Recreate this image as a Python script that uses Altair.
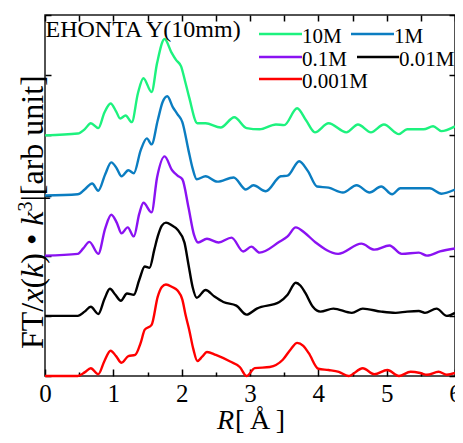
import altair as alt
import pandas as pd

# ---------------- data ----------------
labels = ["10M", "1M", "0.1M", "0.01M", "0.001M"]
colors = ["#1DF27E", "#0B7DC1", "#8A12F2", "#000000", "#FF0000"]
offsets = [4, 3, 2, 1, 0]

r_10M = [0, 0.48, 0.58, 0.67, 0.78, 0.87, 0.96, 1.04, 1.1, 1.18, 1.27, 1.36, 1.44, 1.56, 1.64, 1.75,
         1.85, 1.92, 1.99, 2.05, 2.11, 2.23, 2.35, 2.57, 2.77, 2.95, 3.14, 3.38, 3.5, 3.69, 3.82,
         3.95, 4.15, 4.41, 4.58, 4.77, 4.96, 5.18, 5.3, 5.54, 5.68, 5.8, 6.0]
v_10M = [0, 0.03, 0.1, 0.2, 0.12, 0.38, 0.53, 0.4, 0.28, 0.33, 0.22, 0.7, 0.95, 0.72, 1.2, 1.6,
         1.38, 1.25, 1.15, 0.9, 0.63, 0.2, 0.2, 0.13, 0.3, 0.12, 0.1, 0.18, 0.17, 0.45, 0.25,
         0.05, 0.2, 0.05, 0.18, 0.05, 0.18, 0.02, 0.1, 0.1, 0.15, 0.07, 0.15]

r_1M = [0, 0.48, 0.58, 0.69, 0.78, 0.88, 0.97, 1.05, 1.12, 1.22, 1.3, 1.4, 1.49, 1.56, 1.65, 1.72,
        1.79, 1.87, 1.94, 2.01, 2.1, 2.16, 2.22, 2.35, 2.52, 2.76, 2.94, 3.05, 3.23, 3.45, 3.55,
        3.72, 3.85, 3.98, 4.15, 4.36, 4.56, 4.75, 4.92, 5.08, 5.2, 5.49, 5.63, 5.8, 6.0]
v_1M = [0, 0.02, 0.1, 0.2, 0.08, 0.35, 0.55, 0.45, 0.32, 0.42, 0.37, 0.75, 0.95, 0.85, 1.25, 1.55,
        1.65, 1.47, 1.35, 1.22, 0.75, 0.45, 0.27, 0.32, 0.23, 0.3, 0.1, 0.17, 0.07, 0.32, 0.33,
        0.57, 0.4, 0.15, 0.13, 0.05, 0.17, 0.05, 0.15, 0.02, 0.12, 0.12, 0.12, 0.03, 0.1]

r_01M = [0, 0.48, 0.56, 0.65, 0.78, 0.88, 0.97, 1.05, 1.12, 1.21, 1.3, 1.38, 1.44, 1.56, 1.64, 1.75,
         1.86, 1.94, 2.01, 2.1, 2.18, 2.24, 2.37, 2.54, 2.73, 2.9, 3.02, 3.14, 3.43, 3.55, 3.67,
         3.8, 3.96, 4.29, 4.63, 4.82, 5.04, 5.22, 5.47, 5.59, 5.78, 6.0]
v_01M = [0, 0.03, 0.12, 0.23, 0.03, 0.45, 0.68, 0.55, 0.37, 0.47, 0.32, 0.7, 0.88, 0.72, 1.3, 1.65,
         1.42, 1.33, 1.27, 0.8, 0.35, 0.22, 0.28, 0.22, 0.3, 0.07, 0.15, 0.05, 0.23, 0.32, 0.47,
         0.38, 0.22, 0.03, 0.2, 0.1, 0.17, 0.03, 0.05, 0.0, 0.07, 0.12]

r_001M = [0, 0.48, 0.58, 0.67, 0.78, 0.87, 0.95, 1.03, 1.11, 1.2, 1.3, 1.38, 1.46, 1.53, 1.6, 1.65,
          1.71, 1.77, 1.86, 1.94, 2.04, 2.1, 2.16, 2.22, 2.35, 2.48, 2.61, 2.8, 2.95, 3.1, 3.43,
          3.55, 3.67, 3.74, 3.81, 3.92, 4.03, 4.22, 4.49, 4.65, 4.92, 5.13, 5.3, 5.47, 5.56, 5.73,
          5.88, 6.0]
v_001M = [0, 0, 0.07, 0.15, 0.03, 0.28, 0.45, 0.35, 0.25, 0.37, 0.35, 0.6, 0.82, 0.8, 1.1, 1.32,
          1.5, 1.55, 1.5, 1.43, 1.22, 0.85, 0.48, 0.3, 0.43, 0.32, 0.23, 0.17, 0.02, 0.12, 0.23,
          0.35, 0.55, 0.5, 0.38, 0.15, 0.07, 0.12, 0.05, 0.12, 0.07, 0.05, 0.07, 0.08, 0.05, 0.12,
          0.0, 0.05]

r_0001M = [0, 0.3, 0.48, 0.58, 0.67, 0.78, 0.87, 0.96, 1.04, 1.12, 1.22, 1.32, 1.4, 1.46, 1.56, 1.65,
           1.71, 1.77, 1.86, 1.94, 2.01, 2.06, 2.11, 2.17, 2.23, 2.3, 2.37, 2.5, 2.71, 2.85, 2.95,
           3.07, 3.29, 3.48, 3.6, 3.69, 3.78, 3.86, 4.0, 4.15, 4.3, 4.44, 4.65, 4.82, 5.01, 5.18,
           5.35, 5.49, 5.59, 5.76, 5.88, 6.0]
v_0001M = [0, 0, 0, 0.06, 0.13, 0.03, 0.25, 0.42, 0.33, 0.22, 0.33, 0.35, 0.55, 0.77, 0.85, 1.32,
           1.48, 1.52, 1.48, 1.42, 1.27, 1.0, 0.77, 0.45, 0.25, 0.32, 0.4, 0.35, 0.24, 0.15, 0.0,
           0.13, 0.15, 0.27, 0.45, 0.55, 0.5, 0.38, 0.12, 0.1, 0.07, 0.0, 0.13, 0.03, 0.1, 0.0,
           0.07, 0.05, 0.02, 0.07, 0.02, 0.05]

series_r = [r_10M, r_1M, r_01M, r_001M, r_0001M]
series_v = [v_10M, v_1M, v_01M, v_001M, v_0001M]

x_major = [0, 1, 2, 3, 4, 5, 6]
x_all = [0, 0.5, 1, 1.5, 2, 2.5, 3, 3.5, 4, 4.5, 5, 5.5, 6]
x_minor = [0.5, 1.5, 2.5, 3.5, 4.5, 5.5]
y_ticks = [0, 1, 2, 3, 4, 5, 6]

rows = []
for lab, off, rs, vs in zip(labels, offsets, series_r, series_v):
    for r, v in zip(rs, vs):
        rows.append({"series": lab, "R": r, "FT": v + off})
df = pd.DataFrame(rows)

# ---------------- layout ----------------
W, H = 410, 361
FONT = "Liberation Serif"

xs = alt.Scale(domain=[0, 6], nice=False, zero=False)
ys = alt.Scale(domain=[0, 6], nice=False, zero=False)
cs = alt.Scale(domain=labels, range=colors)

tick_style = dict(tickColor="black", tickWidth=1.5, domain=False, grid=False, title="")

base = alt.Chart(df)

lines = base.mark_line(strokeWidth=2.4, interpolate="monotone").encode(
    x=alt.X("R:Q", scale=xs, axis=alt.Axis(orient="bottom", values=x_major, ticks=False,
                                           labelFontSize=25, labelFont=FONT, labelColor="black",
                                           labelPadding=5, labelFlush=False, format="d",
                                           **tick_style)),
    y=alt.Y("FT:Q", scale=ys, axis=alt.Axis(orient="right", offset=-W, values=y_ticks,
                                            labels=False, tickSize=6, **tick_style)),
    color=alt.Color("series:N", scale=cs, legend=None),
)

ghost2 = base.mark_line(opacity=0).encode(
    x=alt.X("R:Q", scale=xs, axis=alt.Axis(orient="bottom", offset=-H, values=x_all,
                                           labels=False, tickSize=6, **tick_style)),
    y=alt.Y("FT:Q", scale=ys, axis=alt.Axis(orient="left", offset=-W, values=y_ticks,
                                            labels=False, tickSize=6, **tick_style)),
    detail="series:N",
)
ghost3 = base.mark_line(opacity=0).encode(
    x=alt.X("R:Q", scale=xs, axis=alt.Axis(orient="top", offset=-H, values=x_major,
                                           labels=False, tickSize=7, **tick_style)),
    y=alt.Y("FT:Q", scale=ys, axis=None),
    detail="series:N",
)
ghost4 = base.mark_line(opacity=0).encode(
    x=alt.X("R:Q", scale=xs, axis=alt.Axis(orient="top", offset=-H, values=x_minor,
                                           labels=False, tickSize=4, **tick_style)),
    y=alt.Y("FT:Q", scale=ys, axis=None),
    detail="series:N",
)

# legend (manual, two columns)
leg_x0 = [214, 306, 214, 312, 214]
leg_x1 = [257, 349, 257, 354, 257]
leg_y = [19, 19, 42, 42, 64]
leg_df = pd.DataFrame({"series": labels, "x0": leg_x0, "x1": leg_x1, "y": leg_y})
leg_lines = alt.Chart(leg_df).mark_rule(strokeWidth=2.4).encode(
    x=alt.X("x0:Q", scale=None), x2="x1:Q",
    y=alt.Y("y:Q", scale=None),
    color=alt.Color("series:N", scale=cs, legend=None),
)
leg_text = alt.Chart(leg_df).mark_text(align="left", baseline="alphabetic", font=FONT,
                                       fontSize=21, color="black", dy=9).encode(
    x=alt.X("x1:Q", scale=None), y=alt.Y("y:Q", scale=None), text="series:N",
)

# title pieces (y axis title with italic parts, x axis title, sample name)
up_df = pd.DataFrame({"t": ["FT/", "(", ") \u2022 ", "|[arb unit]"],
                      "px": [-2, -2, -2, -2], "py": [334, 273.6, 248.7, 186.6]})
it_df = pd.DataFrame({"t": ["x", "k", "k"], "px": [-2, -2, -2], "py": [287.8, 262.9, 210.8]})
sup_df = pd.DataFrame({"t": ["3"], "px": [-13], "py": [196.6]})

ytitle_up = alt.Chart(up_df).mark_text(angle=270, align="left", baseline="alphabetic",
                                       font=FONT, fontSize=32, color="black").encode(
    x=alt.X("px:Q", scale=None), y=alt.Y("py:Q", scale=None), text="t:N")
ytitle_it = alt.Chart(it_df).mark_text(angle=270, align="left", baseline="alphabetic",
                                       font=FONT, fontSize=32, fontStyle="italic",
                                       color="black").encode(
    x=alt.X("px:Q", scale=None), y=alt.Y("py:Q", scale=None), text="t:N")
ytitle_sup = alt.Chart(sup_df).mark_text(angle=270, align="left", baseline="alphabetic",
                                         font=FONT, fontSize=20, color="black").encode(
    x=alt.X("px:Q", scale=None), y=alt.Y("py:Q", scale=None), text="t:N")

xt_df = pd.DataFrame({"t": ["R", "[\u2009\u00c5\u2009]"], "px": [172, 190], "py": [414, 414],
                      "st": ["italic", "normal"]})
xtitle_it = alt.Chart(xt_df).transform_filter(alt.datum.st == "italic").mark_text(
    align="left", baseline="alphabetic", font=FONT, fontSize=28, fontStyle="italic",
    color="black").encode(x=alt.X("px:Q", scale=None), y=alt.Y("py:Q", scale=None), text="t:N")
xtitle_up = alt.Chart(xt_df).transform_filter(alt.datum.st == "normal").mark_text(
    align="left", baseline="alphabetic", font=FONT, fontSize=28,
    color="black").encode(x=alt.X("px:Q", scale=None), y=alt.Y("py:Q", scale=None), text="t:N")

name_df = pd.DataFrame({"t": ["EHONTA Y(10mm)"], "px": [0.5], "py": [22]})
name_text = alt.Chart(name_df).mark_text(align="left", baseline="alphabetic", font=FONT,
                                         fontSize=24, color="black").encode(
    x=alt.X("px:Q", scale=None), y=alt.Y("py:Q", scale=None), text="t:N")

chart = alt.layer(
    ghost2, ghost3, ghost4, lines, leg_lines, leg_text,
    ytitle_up, ytitle_it, ytitle_sup, xtitle_it, xtitle_up, name_text,
).resolve_axis(x="independent", y="independent").properties(
    width=W, height=H, autosize="none",
    padding={"left": 37, "top": 7, "right": 0, "bottom": 59},
).configure_view(stroke="#1a1a1a", strokeWidth=1.5).configure_axis(grid=False)

chart.save("out.html", embed_options={"renderer": "svg", "actions": False})
